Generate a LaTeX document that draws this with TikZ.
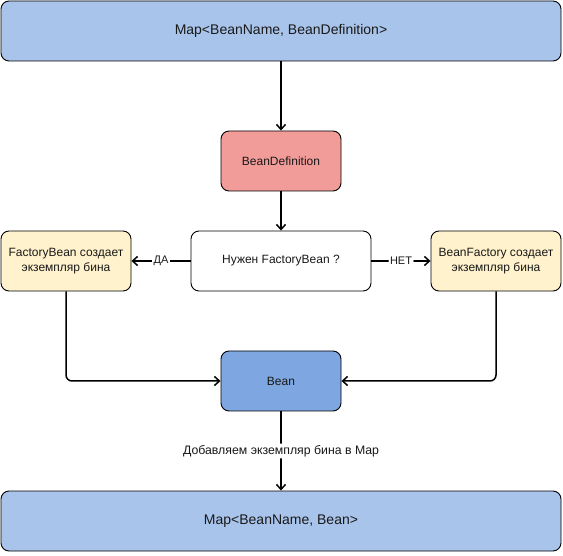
\documentclass[tikz,border=0pt]{standalone}
\usepackage{fontspec}
\setmainfont{Liberation Sans}
\usetikzlibrary{arrows.meta}
\definecolor{mapblue}{HTML}{A9C4EB}
\definecolor{defred}{HTML}{F19C99}
\definecolor{factyellow}{HTML}{FFF2CC}
\definecolor{beanblue}{HTML}{7EA6E0}
\tikzset{
  boxbase/.style={draw=black, line width=0.9pt, rounded corners=8pt, inner sep=0pt, align=center, text=black!90},
  mapbox/.style={boxbase, fill=mapblue, minimum width=560pt, minimum height=60pt, font=\fontsize{14}{16}\selectfont},
  defbox/.style={boxbase, fill=defred, minimum width=120pt, minimum height=60pt, font=\fontsize{12}{14.5}\selectfont},
  decbox/.style={boxbase, fill=white, minimum width=180pt, minimum height=60pt, font=\fontsize{12}{14.5}\selectfont},
  factbox/.style={boxbase, fill=factyellow, minimum width=130pt, minimum height=60pt, font=\fontsize{12}{14.5}\selectfont},
  beanbox/.style={boxbase, fill=beanblue, minimum width=120pt, minimum height=60pt, font=\fontsize{12}{14.5}\selectfont},
  conn/.style={draw=black, line width=1.5pt, rounded corners=6pt, -{Straight Barb[length=5pt,width=9pt,line width=1.5pt]}},
  lbl/.style={fill=white, inner sep=1.5pt, font=\fontsize{11}{13}\selectfont, text=black!90},
  biglbl/.style={lbl, font=\fontsize{12.3}{14}\selectfont}
}
\begin{document}
\begin{tikzpicture}[x=1pt,y=-1pt]
\useasboundingbox (0,0) rectangle (563,556);
\node[mapbox]  (top)    at (281,31)  {Map<BeanName, BeanDefinition>};
\node[defbox]  (def)    at (281,161) {BeanDefinition};
\node[decbox]  (dec)    at (281,261) {Нужен FactoryBean ?};
\node[factbox] (fbean)  at (66,261)  {FactoryBean создает\\экземпляр бина};
\node[factbox] (bfact)  at (496,261) {BeanFactory создает\\экземпляр бина};
\node[beanbox] (bean)   at (281,381) {Bean};
\node[mapbox]  (bottom) at (281,521) {Map<BeanName, Bean>};
\draw[conn] (top) -- (def);
\draw[conn] (def) -- (dec);
\draw[conn] (dec) -- node[lbl] {ДА} (fbean);
\draw[conn] (dec) -- node[lbl] {НЕТ} (bfact);
\draw[conn] (fbean.south) |- (bean.west);
\draw[conn] (bfact.south) |- (bean.east);
\draw[conn] (bean) -- node[biglbl] {Добавляем экземпляр бина в Map} (bottom);
\end{tikzpicture}
\end{document}
